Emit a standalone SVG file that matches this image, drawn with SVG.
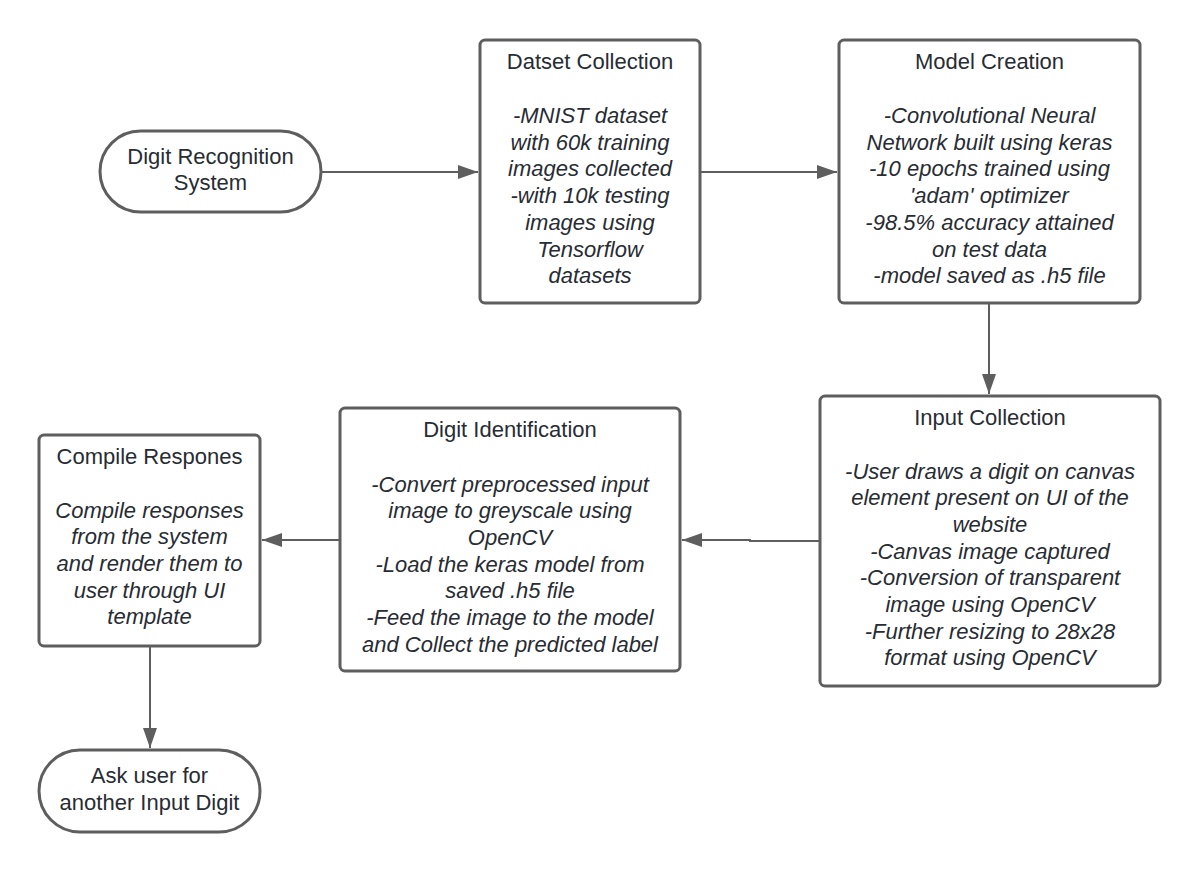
<svg xmlns="http://www.w3.org/2000/svg" width="1200" height="872" viewBox="0 0 1200 872">
<style>
.box{fill:#fff;stroke:#5e5e5e;stroke-width:3}
.t{font-family:"Liberation Sans",Arial,sans-serif;font-size:22px;fill:#282c33;text-anchor:middle}
.i{font-style:italic}
.c{fill:none;stroke:#5e5e5e;stroke-width:2}
</style>
<defs>
<marker id="ahs" markerWidth="20" markerHeight="14" viewBox="0 0 20 14" refX="20" refY="7" orient="auto" markerUnits="userSpaceOnUse">
<path d="M0,0 L20,7 L0,14 Z" fill="#5e5e5e"/>
</marker>
</defs>
<rect width="1200" height="872" fill="#fff"/>
<g id="connectors">
<path class="c" d="M321,172 L478,172" marker-end="url(#ahs)"/>
<path class="c" d="M701,172 L837,172" marker-end="url(#ahs)"/>
<path class="c" d="M989,303 L989,394" marker-end="url(#ahs)"/>
<path class="c" d="M820,541 L750,541 L750,540 L682,540" marker-end="url(#ahs)"/>
<path class="c" d="M341,540 L262,540" marker-end="url(#ahs)"/>
<path class="c" d="M150,646 L150,748" marker-end="url(#ahs)"/>
</g>
<g id="start">
<rect class="box" x="100" y="131" width="221" height="81" rx="40.5"/>
<text class="t" x="210.5" y="164">Digit Recognition</text>
<text class="t" x="210.5" y="190">System</text>
</g>
<g id="dataset">
<rect class="box" x="480" y="40" width="220" height="263" rx="5"/>
<text class="t" x="590" y="69">Datset Collection</text>
<text class="t i" x="590" y="123">-MNIST dataset</text>
<text class="t i" x="590" y="150">with 60k training</text>
<text class="t i" x="590" y="176">images collected</text>
<text class="t i" x="590" y="203">-with 10k testing</text>
<text class="t i" x="590" y="230">images using</text>
<text class="t i" x="590" y="257">Tensorflow</text>
<text class="t i" x="590" y="283">datasets</text>
</g>
<g id="model">
<rect class="box" x="839" y="40" width="301" height="263" rx="5"/>
<text class="t" x="989.5" y="69">Model Creation</text>
<text class="t i" x="989.5" y="123">-Convolutional Neural</text>
<text class="t i" x="989.5" y="150">Network built using keras</text>
<text class="t i" x="989.5" y="176">-10 epochs trained using</text>
<text class="t i" x="989.5" y="203">'adam' optimizer</text>
<text class="t i" x="989.5" y="230">-98.5% accuracy attained</text>
<text class="t i" x="989.5" y="257">on test data</text>
<text class="t i" x="989.5" y="283">-model saved as .h5 file</text>
</g>
<g id="input">
<rect class="box" x="820" y="396" width="340" height="290" rx="5"/>
<text class="t" x="990" y="425">Input Collection</text>
<text class="t i" x="990" y="479">-User draws a digit on canvas</text>
<text class="t i" x="990" y="505">element present on UI of the</text>
<text class="t i" x="990" y="532">website</text>
<text class="t i" x="990" y="559">-Canvas image captured</text>
<text class="t i" x="990" y="585">-Conversion of transparent</text>
<text class="t i" x="990" y="612">image using OpenCV</text>
<text class="t i" x="990" y="639">-Further resizing to 28x28</text>
<text class="t i" x="990" y="665">format using OpenCV</text>
</g>
<g id="identification">
<rect class="box" x="340" y="408" width="340" height="263" rx="5"/>
<text class="t" x="510" y="437">Digit Identification</text>
<text class="t i" x="510" y="492">-Convert preprocessed input</text>
<text class="t i" x="510" y="518">image to greyscale using</text>
<text class="t i" x="510" y="545">OpenCV</text>
<text class="t i" x="510" y="572">-Load the keras model from</text>
<text class="t i" x="510" y="598">saved .h5 file</text>
<text class="t i" x="510" y="625">-Feed the image to the model</text>
<text class="t i" x="510" y="652">and Collect the predicted label</text>
</g>
<g id="compile">
<rect class="box" x="39" y="435" width="221" height="211" rx="5"/>
<text class="t" x="149.5" y="464">Compile Respones</text>
<text class="t i" x="149.5" y="518">Compile responses</text>
<text class="t i" x="149.5" y="544">from the system</text>
<text class="t i" x="149.5" y="571">and render them to</text>
<text class="t i" x="149.5" y="598">user through UI</text>
<text class="t i" x="149.5" y="624">template</text>
</g>
<g id="end">
<rect class="box" x="39" y="750" width="221" height="82" rx="41"/>
<text class="t" x="149.5" y="783">Ask user for</text>
<text class="t" x="149.5" y="810">another Input Digit</text>
</g>
</svg>
